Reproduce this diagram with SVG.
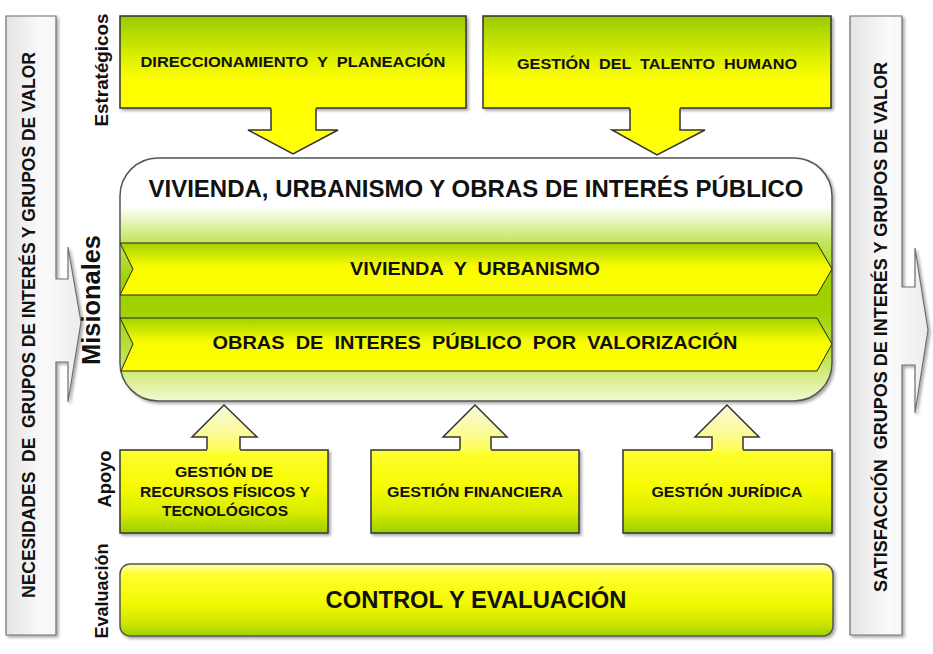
<svg xmlns="http://www.w3.org/2000/svg" width="933" height="654" viewBox="0 0 933 654" xml:space="preserve">
<defs>
<style>
.t{font-family:"Liberation Sans",Arial,sans-serif;font-weight:bold;fill:#111;text-anchor:middle;white-space:pre}
.box{stroke:#333;stroke-width:1.5}
.side{fill:url(#gray);stroke:#6e6e6e;stroke-width:1.2}
.arrowline{fill:none;stroke:#333;stroke-width:1.5;stroke-linejoin:miter}
.band{fill:url(#band);stroke:#222;stroke-width:1}
</style>
<linearGradient id="gray" x1="0" y1="0" x2="1" y2="0">
<stop offset="0" stop-color="#e4e4e4"/><stop offset="0.5" stop-color="#fbfbfb"/><stop offset="1" stop-color="#ececec"/>
</linearGradient>
<linearGradient id="top" x1="0" y1="0" x2="0" y2="1">
<stop offset="0" stop-color="#98ca00"/><stop offset="0.45" stop-color="#dcf000"/><stop offset="0.7" stop-color="#ffff00"/><stop offset="1" stop-color="#ffff00"/>
</linearGradient>
<linearGradient id="downArrow" x1="0" y1="0" x2="0" y2="1">
<stop offset="0" stop-color="#ffff00"/><stop offset="1" stop-color="#ffff10"/>
</linearGradient>
<linearGradient id="sup" x1="0" y1="0" x2="0" y2="1">
<stop offset="0" stop-color="#ffff30"/><stop offset="0.45" stop-color="#f6fa00"/><stop offset="0.75" stop-color="#d8ec00"/><stop offset="1" stop-color="#9ccd00"/>
</linearGradient>
<linearGradient id="upArrow" x1="0" y1="0" x2="0" y2="1">
<stop offset="0" stop-color="#f8f8dc"/><stop offset="0.6" stop-color="#fbfb9a"/><stop offset="1" stop-color="#ffff50"/>
</linearGradient>
<linearGradient id="eval" x1="0" y1="0" x2="0" y2="1">
<stop offset="0" stop-color="#ffffa8"/><stop offset="0.15" stop-color="#ffff30"/><stop offset="0.55" stop-color="#f2f900"/><stop offset="0.85" stop-color="#c8e400"/><stop offset="1" stop-color="#9ecf00"/>
</linearGradient>
<linearGradient id="main" x1="0" y1="0" x2="0" y2="1">
<stop offset="0" stop-color="#ffffff"/><stop offset="0.2" stop-color="#ffffff"/><stop offset="0.34" stop-color="#c6e660"/><stop offset="0.5" stop-color="#a0d200"/><stop offset="0.62" stop-color="#a0d200"/><stop offset="0.82" stop-color="#bfe34a"/><stop offset="0.92" stop-color="#dcf096"/><stop offset="1" stop-color="#f2f9d4"/>
</linearGradient>
<linearGradient id="band" x1="0" y1="0" x2="0" y2="1">
<stop offset="0" stop-color="#a2d200"/><stop offset="0.45" stop-color="#f8fc00"/><stop offset="1" stop-color="#ffff00"/>
</linearGradient>
<filter id="sh" x="-5%" y="-5%" width="112%" height="115%">
<feDropShadow dx="2" dy="2" stdDeviation="1.5" flood-color="#000" flood-opacity="0.35"/>
</filter>
</defs>
<rect width="933" height="654" fill="#ffffff"/>

<g id="necesidades">
<path class="side" filter="url(#sh)" d="M6,16 H56 V279 H68 V247 L81,322 L68,402 V362 H56 V635 H6 Z"/>
<text class="t" font-size="19" transform="translate(35,325) rotate(-90)" textLength="546" lengthAdjust="spacingAndGlyphs">NECESIDADES  DE  GRUPOS DE INTERÉS Y GRUPOS DE VALOR</text>
</g>

<g id="satisfaccion">
<path class="side" filter="url(#sh)" d="M850,16 H902 V287 H915 V248 L928,330 L915,413 V365 H902 V635 H850 Z"/>
<text class="t" font-size="19" transform="translate(887,327) rotate(-90)" textLength="530" lengthAdjust="spacingAndGlyphs">SATISFACCIÓN  GRUPOS DE INTERÉS Y GRUPOS DE VALOR</text>
</g>

<g id="labels">
<text class="t" font-size="18.5" transform="translate(108,70) rotate(-90)" textLength="113" lengthAdjust="spacingAndGlyphs">Estratégicos</text>
<text class="t" font-size="25" transform="translate(100,300) rotate(-90)" textLength="130" lengthAdjust="spacingAndGlyphs">Misionales</text>
<text class="t" font-size="18.5" transform="translate(111,479) rotate(-90)" textLength="57" lengthAdjust="spacingAndGlyphs">Apoyo</text>
<text class="t" font-size="18.5" transform="translate(108,591) rotate(-90)" textLength="95" lengthAdjust="spacingAndGlyphs">Evaluación</text>
</g>

<g id="direccionamiento">
<rect class="box" x="120" y="16" width="346" height="92" fill="url(#top)" filter="url(#sh)"/>
<text class="t" font-size="15.5" x="293" y="67" textLength="305" lengthAdjust="spacingAndGlyphs">DIRECCIONAMIENTO  Y  PLANEACIÓN</text>
</g>

<g id="talento">
<rect class="box" x="483" y="16" width="348" height="92" fill="url(#top)" filter="url(#sh)"/>
<text class="t" font-size="15.5" x="657" y="69" textLength="280" lengthAdjust="spacingAndGlyphs">GESTIÓN  DEL  TALENTO  HUMANO</text>
</g>

<g id="misionales">
<rect x="120" y="158" width="712" height="243" rx="38" ry="38" fill="url(#main)" stroke="#555" stroke-width="1.5" filter="url(#sh)"/>
<text class="t" font-size="23" x="476" y="197" textLength="655" lengthAdjust="spacingAndGlyphs">VIVIENDA, URBANISMO Y OBRAS DE INTERÉS PÚBLICO</text>
</g>

<g id="vivienda">
<path class="band" d="M120,243 H817 L832,269 L817,295 H120 L133,269 Z"/>
<text class="t" font-size="18" x="475" y="275" textLength="250" lengthAdjust="spacingAndGlyphs">VIVIENDA  Y  URBANISMO</text>
</g>

<g id="obras">
<path class="band" d="M120,318 H817 L832,344 L817,371 H121 L133,344 Z"/>
<text class="t" font-size="18" x="475" y="349" textLength="525" lengthAdjust="spacingAndGlyphs">OBRAS  DE  INTERES  PÚBLICO  POR  VALORIZACIÓN</text>
</g>

<g id="recursos">
<rect class="box" x="120" y="450" width="208" height="83" fill="url(#sup)" filter="url(#sh)"/>
<text class="t" font-size="15" x="224" y="477" textLength="98" lengthAdjust="spacingAndGlyphs">GESTIÓN DE</text>
<text class="t" font-size="15" x="225" y="497" textLength="170" lengthAdjust="spacingAndGlyphs">RECURSOS FÍSICOS Y</text>
<text class="t" font-size="15" x="225" y="516" textLength="126" lengthAdjust="spacingAndGlyphs">TECNOLÓGICOS</text>
</g>

<g id="financiera">
<rect class="box" x="371" y="450" width="208" height="83" fill="url(#sup)" filter="url(#sh)"/>
<text class="t" font-size="15" x="475" y="497" textLength="176" lengthAdjust="spacingAndGlyphs">GESTIÓN FINANCIERA</text>
</g>

<g id="juridica">
<rect class="box" x="623" y="450" width="209" height="83" fill="url(#sup)" filter="url(#sh)"/>
<text class="t" font-size="15" x="727" y="497" textLength="151" lengthAdjust="spacingAndGlyphs">GESTIÓN JURÍDICA</text>
</g>

<g id="control">
<rect x="120" y="564" width="713" height="72" rx="10" ry="10" fill="url(#eval)" stroke="#555" stroke-width="1.5" filter="url(#sh)"/>
<text class="t" font-size="24" x="476" y="608" textLength="301" lengthAdjust="spacingAndGlyphs">CONTROL Y EVALUACIÓN</text>
</g>

<g id="connectors">
<path d="M271,107 V130 H248 L293,154 L338,130 H316 V107 Z" fill="url(#downArrow)"/>
<path class="arrowline" d="M271,108.5 V130 H248 L293,154 L338,130 H316 V108.5"/>
<path d="M630,107 V130 H612 L657,155 L705,130 H680 V107 Z" fill="url(#downArrow)"/>
<path class="arrowline" d="M630,108.5 V130 H612 L657,155 L705,130 H680 V108.5"/>
<path d="M207,451 V437 H192 L224,405 L257,437 H240 V451 Z" fill="url(#upArrow)"/>
<path class="arrowline" d="M207,449.5 V437 H192 L224,405 L257,437 H240 V449.5"/>
<path d="M460,451 V437 H443 L475,405 L507,437 H491 V451 Z" fill="url(#upArrow)"/>
<path class="arrowline" d="M460,449.5 V437 H443 L475,405 L507,437 H491 V449.5"/>
<path d="M712,451 V437 H695 L727,405 L759,437 H743 V451 Z" fill="url(#upArrow)"/>
<path class="arrowline" d="M712,449.5 V437 H695 L727,405 L759,437 H743 V449.5"/>
</g>
</svg>
